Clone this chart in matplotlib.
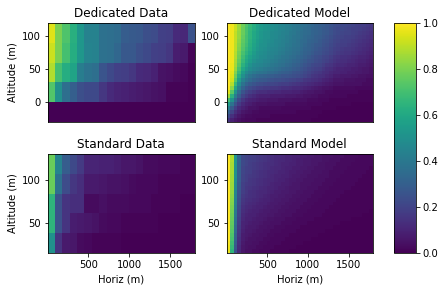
import matplotlib
matplotlib.use('Agg')
import matplotlib.pyplot as plt
import numpy as np

# rows go from top altitude to bottom
dedicated_data = [
    [.95,.80,.72,.63,.53,.44,.44,.37,.36,.35,.29,.28,.27,.24,.23,.19,.18,.12,.11,.25],
    [.92,.80,.70,.62,.53,.45,.44,.37,.36,.33,.27,.27,.24,.22,.19,.18,.16,.08,.07,.01],
    [.88,.70,.62,.58,.42,.38,.36,.26,.22,.19,.18,.16,.12,.11,.09,.05,.04,.03,.02,.00],
    [.73,.50,.36,.30,.24,.22,.22,.16,.12,.10,.09,.08,.07,.06,.05,.04,.01,.01,.01,.00],
    [.00,.00,.00,.00,.00,.00,.00,.00,.00,.00,.00,.00,.00,.00,.00,.00,.00,.00,.00,.00],
]
standard_data = [
    [.77,.45,.29,.22,.17,.10,.10,.09,.09,.08,.06,.06,.05,.03,.03,.02,.02,.02,.01,.01],
    [.77,.37,.23,.16,.13,.07,.07,.06,.05,.05,.04,.03,.02,.02,.02,.01,.01,.01,.01,.01],
    [.65,.25,.15,.13,.13,.03,.03,.04,.03,.03,.03,.02,.02,.02,.01,.01,.01,.01,.00,.00],
    [.65,.25,.15,.08,.07,.06,.05,.03,.02,.02,.01,.01,.01,.01,.01,.00,.00,.00,.00,.00],
    [.50,.15,.07,.06,.03,.02,.01,.01,.01,.01,.00,.00,.00,.00,.00,.00,.00,.00,.00,.00],
]
# model values in percent
dedicated_model = [
    [100,98,92,85,78,72,67,62,57,54,52,51,49,48,46,45,43,42,40,39,37,36,34,33,31,30,29,27,26,24,23,22,22,21,20,19,18,18,17,16],
    [100,98,92,85,77,71,66,61,57,54,52,51,49,48,46,45,43,42,40,39,37,35,34,32,31,30,28,27,25,23,22,22,21,20,19,19,18,17,16,15],
    [100,98,91,84,77,71,65,60,56,53,51,50,48,47,46,44,43,41,40,38,36,35,34,32,31,30,28,27,25,23,22,21,20,20,19,18,17,16,15,14],
    [100,98,91,84,76,70,65,60,56,53,51,50,48,47,45,44,42,41,39,38,36,34,33,32,30,29,27,26,24,22,21,20,19,19,18,17,16,15,14,13],
    [100,98,91,83,75,70,64,59,55,52,50,49,48,46,45,43,42,40,39,37,35,34,32,31,30,28,26,25,23,21,20,19,19,18,17,16,15,14,13,12],
    [100,98,90,82,74,69,63,58,54,51,50,48,47,46,44,43,41,40,38,37,35,33,31,30,28,27,25,24,22,20,19,18,18,17,16,15,14,13,12,11],
    [100,98,90,81,73,67,62,57,53,50,49,47,46,45,43,42,40,39,37,36,34,32,31,29,27,26,24,23,21,19,18,17,16,16,15,14,13,12,11,10],
    [100,98,89,79,71,65,60,55,51,49,48,46,45,44,42,41,39,38,36,35,33,31,30,28,26,25,23,22,20,18,17,16,15,15,14,13,12,11,10,9],
    [100,98,88,78,69,62,57,53,50,48,47,45,44,42,41,39,38,36,35,33,32,30,28,26,24,23,21,20,18,16,15,14,14,13,12,11,10,10,9,8],
    [100,98,87,76,67,60,55,50,48,47,45,44,42,41,39,38,36,35,33,32,30,28,26,25,23,22,20,19,17,15,14,13,13,12,11,10,9,9,8,7],
    [100,97,86,74,64,57,51,47,46,45,43,42,40,39,37,36,34,33,31,30,28,26,24,22,21,20,18,16,15,13,12,12,11,10,10,9,8,8,7,6],
    [100,97,84,71,60,53,48,45,43,42,40,39,38,36,35,33,32,31,29,28,26,24,22,20,19,18,16,14,13,11,10,10,9,9,8,8,7,6,6,5],
    [100,96,81,67,55,48,43,41,39,38,37,35,34,33,31,30,29,28,26,25,24,22,20,18,17,16,14,13,11,10,10,9,9,8,8,7,7,6,6,5],
    [100,95,78,62,50,42,38,35,33,32,31,30,29,28,27,26,26,25,24,23,22,20,18,16,15,14,13,11,10,8,8,7,7,7,6,6,5,5,4,4],
    [100,93,74,56,44,38,34,31,29,28,27,26,25,24,24,23,22,21,20,19,18,16,15,14,13,12,10,9,8,6,6,6,5,5,5,4,4,4,3,3],
    [100,89,67,49,38,32,28,26,24,23,22,21,21,20,19,18,18,17,16,15,14,13,12,11,10,9,8,7,6,5,5,5,4,4,4,4,4,3,3,3],
    [99,83,59,42,32,26,23,21,19,18,17,17,16,16,15,14,14,13,12,12,11,10,9,8,7,6,5,5,4,3,3,3,3,3,3,2,2,2,2,2],
    [95,74,51,35,26,21,18,16,14,13,13,12,12,11,11,10,10,10,9,9,8,7,6,6,5,5,4,3,3,2,2,2,2,2,2,2,1,1,1,1],
    [85,63,42,29,21,17,14,12,10,9,9,9,8,8,8,8,7,7,7,6,6,5,5,4,4,3,3,3,2,2,2,2,2,1,1,1,1,1,1,1],
    [70,50,33,22,16,12,10,9,8,7,7,6,6,6,5,5,5,5,4,4,4,4,3,3,3,2,2,2,1,1,1,1,1,1,1,1,1,1,1,1],
    [55,38,25,17,12,9,8,6,5,5,5,4,4,4,4,4,3,3,3,3,3,3,2,2,2,2,1,1,1,1,1,1,1,1,0,0,0,0,0,0],
    [42,28,18,12,9,7,5,5,4,3,3,3,3,3,3,2,2,2,2,2,2,2,2,1,1,1,1,1,1,1,0,0,0,0,0,0,0,0,0,0],
    [30,20,13,9,6,5,4,3,3,2,2,2,2,2,2,2,2,2,2,1,1,1,1,1,1,1,0,0,0,0,0,0,0,0,0,0,0,0,0,0],
    [22,14,9,6,4,3,3,2,2,2,2,2,1,1,1,1,1,1,1,1,1,1,1,1,1,0,0,0,0,0,0,0,0,0,0,0,0,0,0,0],
    [15,9,6,4,3,2,2,2,1,1,1,1,1,1,1,1,1,1,1,1,1,1,1,0,0,0,0,0,0,0,0,0,0,0,0,0,0,0,0,0],
]
standard_model = [
    [100,88,53,32,22,20,19,18,17,16,15,14,13,12,12,11,10,10,9,9,8,8,7,7,6,6,5,5,5,4,4,4,3,3,3,3,2,2,2,2],
    [100,88,52,32,22,20,19,18,17,16,15,14,13,12,11,11,10,10,9,8,8,7,7,6,6,6,5,5,4,4,4,3,3,3,3,2,2,2,2,2],
    [100,87,52,31,22,20,18,17,16,15,14,13,13,12,11,10,10,9,9,8,8,7,7,6,6,5,5,4,4,4,3,3,3,3,2,2,2,2,2,2],
    [100,87,51,31,21,19,18,17,16,15,14,13,12,11,11,10,9,9,8,8,7,7,6,6,5,5,5,4,4,3,3,3,3,2,2,2,2,2,2,1],
    [100,87,51,30,21,19,18,16,15,14,13,12,12,11,10,10,9,8,8,7,7,6,6,5,5,5,4,4,3,3,3,3,2,2,2,2,2,2,1,1],
    [100,86,50,30,20,18,17,16,15,14,13,12,11,10,10,9,9,8,7,7,6,6,5,5,5,4,4,4,3,3,3,2,2,2,2,2,2,1,1,1],
    [100,86,49,29,20,18,16,15,14,13,12,11,11,10,9,9,8,7,7,6,6,5,5,5,4,4,4,3,3,3,2,2,2,2,2,2,1,1,1,1],
    [100,85,48,28,19,17,16,15,14,13,12,11,10,9,9,8,8,7,6,6,5,5,5,4,4,4,3,3,3,2,2,2,2,2,2,1,1,1,1,1],
    [100,85,47,27,19,16,15,14,13,12,11,10,10,9,8,8,7,6,6,6,5,5,4,4,4,3,3,3,2,2,2,2,2,2,1,1,1,1,1,1],
    [100,84,46,26,18,16,14,13,12,11,11,10,9,8,8,7,7,6,6,5,5,4,4,4,3,3,3,2,2,2,2,2,1,1,1,1,1,1,1,1],
    [100,83,45,25,17,15,14,13,12,11,10,9,8,8,7,7,6,6,5,5,4,4,4,3,3,3,2,2,2,2,2,1,1,1,1,1,1,1,1,1],
    [100,82,44,24,16,14,13,12,11,10,9,9,8,7,7,6,6,5,5,4,4,4,3,3,3,2,2,2,2,2,1,1,1,1,1,1,1,1,1,1],
    [100,81,43,23,15,13,12,11,10,9,9,8,7,7,6,6,5,5,4,4,4,3,3,3,2,2,2,2,2,1,1,1,1,1,1,1,1,1,1,1],
    [100,80,42,22,14,12,11,10,9,9,8,7,7,6,6,5,5,4,4,4,3,3,3,2,2,2,2,2,1,1,1,1,1,1,1,1,1,1,1,1],
    [100,79,41,21,13,11,10,9,9,8,7,7,6,6,5,5,4,4,4,3,3,3,2,2,2,2,2,1,1,1,1,1,1,1,1,1,1,1,1,0],
    [100,78,40,20,12,10,9,9,8,7,7,6,6,5,5,4,4,4,3,3,3,2,2,2,2,2,1,1,1,1,1,1,1,1,1,1,1,0,0,0],
    [100,77,38,19,11,9,9,8,7,7,6,5,5,4,4,4,3,3,3,2,2,2,2,2,1,1,1,1,1,1,1,1,1,1,0,0,0,0,0,0],
    [100,76,37,18,10,9,8,7,7,6,5,5,4,4,4,3,3,3,2,2,2,2,1,1,1,1,1,1,1,1,1,0,0,0,0,0,0,0,0,0],
    [100,75,35,17,10,8,7,7,6,5,5,4,4,3,3,3,2,2,2,2,1,1,1,1,1,1,1,1,1,0,0,0,0,0,0,0,0,0,0,0],
    [100,74,34,16,9,7,7,6,5,5,4,4,3,3,3,2,2,2,2,1,1,1,1,1,1,1,1,0,0,0,0,0,0,0,0,0,0,0,0,0],
    [100,72,32,15,8,7,6,5,5,4,4,3,3,2,2,2,2,1,1,1,1,1,1,1,1,0,0,0,0,0,0,0,0,0,0,0,0,0,0,0],
    [100,71,31,14,8,6,5,5,4,4,3,3,2,2,2,2,1,1,1,1,1,1,1,0,0,0,0,0,0,0,0,0,0,0,0,0,0,0,0,0],
    [99,69,29,13,7,5,5,4,4,3,3,2,2,2,2,1,1,1,1,1,1,0,0,0,0,0,0,0,0,0,0,0,0,0,0,0,0,0,0,0],
    [98,67,27,12,6,5,4,4,3,3,2,2,2,1,1,1,1,1,1,0,0,0,0,0,0,0,0,0,0,0,0,0,0,0,0,0,0,0,0,0],
    [97,65,25,11,6,4,4,3,3,2,2,2,1,1,1,1,1,0,0,0,0,0,0,0,0,0,0,0,0,0,0,0,0,0,0,0,0,0,0,0],
]

W, H = 445, 291
fig = plt.figure(figsize=(W/72, H/72), dpi=72, facecolor='white')

def px_axes(x0, y0, x1, y1):
    return fig.add_axes([x0/W, 1-y1/H, (x1-x0)/W, (y1-y0)/H])

def draw(ax, vals, ylim, title):
    vals = np.array(vals, dtype=float)
    xe = np.linspace(0, 1800, vals.shape[1]+1)
    ye = np.linspace(ylim[1], ylim[0], vals.shape[0]+1)
    m = ax.pcolormesh(xe, ye, vals, cmap='viridis', vmin=0, vmax=1, rasterized=True)
    ax.set_xlim(0, 1800)
    ax.set_ylim(*ylim)
    ax.set_title(title, fontsize=12, pad=6)
    return m

top = (-30, 120)
bot = (15, 131)

ax1 = px_axes(47.5, 23, 195, 122)
m = draw(ax1, dedicated_data, top, 'Dedicated Data')
ax1.set_xticks([])
ax1.set_yticks([0, 50, 100])
ax1.set_ylabel('Altitude (m)', fontsize=10)

ax2 = px_axes(226.5, 23, 373, 122)
draw(ax2, np.array(dedicated_model)/100, top, 'Dedicated Model')
ax2.set_xticks([])
ax2.set_yticks([0, 50, 100])

ax3 = px_axes(47.5, 154, 195, 253)
draw(ax3, standard_data, bot, 'Standard Data')
ax3.set_xticks([500, 1000, 1500])
ax3.set_yticks([50, 100])
ax3.set_xlabel('Horiz (m)', fontsize=10)
ax3.set_ylabel('Altitude (m)', fontsize=10)

ax4 = px_axes(226.5, 154, 373, 253)
draw(ax4, np.array(standard_model)/100, bot, 'Standard Model')
ax4.set_xticks([500, 1000, 1500])
ax4.set_yticks([50, 100])
ax4.set_xlabel('Horiz (m)', fontsize=10)

for ax in [ax1, ax2, ax3, ax4]:
    ax.tick_params(labelsize=10)

cax = px_axes(394, 23, 415.5, 253)
cb = fig.colorbar(m, cax=cax)
cb.set_ticks([0, 0.2, 0.4, 0.6, 0.8, 1.0])
cb.ax.tick_params(labelsize=10)

fig.savefig('out.png', dpi=72, facecolor='white')
